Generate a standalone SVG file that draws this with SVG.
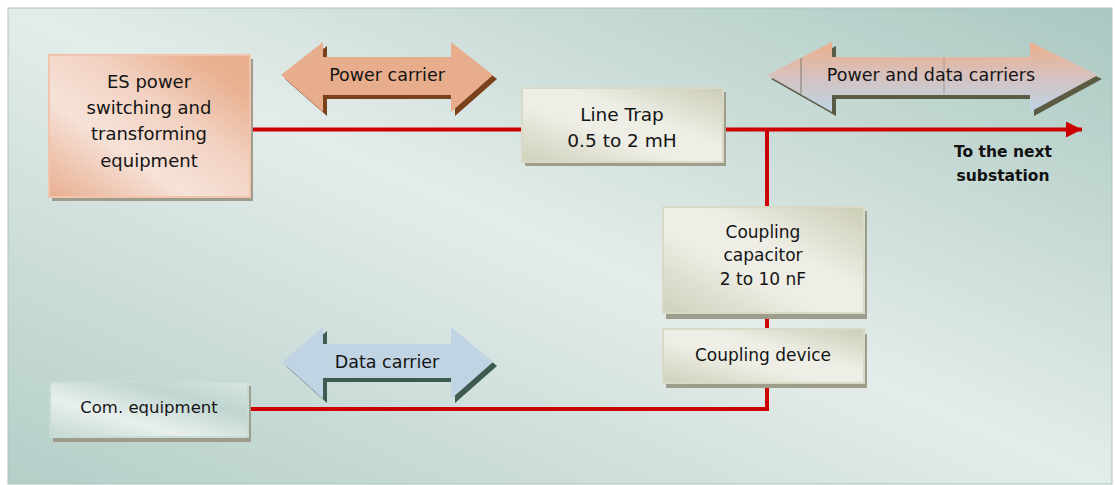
<svg xmlns="http://www.w3.org/2000/svg" width="1115" height="485" viewBox="0 0 1115 485">
<defs>
<linearGradient id="bg" x1="1" y1="0" x2="0" y2="1">
<stop offset="0" stop-color="#aac8c1"/>
<stop offset="0.5" stop-color="#e4ecea"/>
<stop offset="1" stop-color="#b4cec8"/>
</linearGradient>
<linearGradient id="peach" x1="0" y1="1" x2="1" y2="0">
<stop offset="0" stop-color="#e8ae90"/>
<stop offset="0.35" stop-color="#f6e2d8"/>
<stop offset="0.6" stop-color="#f2d2c2"/>
<stop offset="0.85" stop-color="#e9b192"/>
<stop offset="1" stop-color="#e8ad8e"/>
</linearGradient>
<linearGradient id="beige" x1="0" y1="1" x2="1" y2="0">
<stop offset="0" stop-color="#cfd0ba"/>
<stop offset="0.4" stop-color="#eeeee6"/>
<stop offset="0.6" stop-color="#eeeee6"/>
<stop offset="1" stop-color="#cccdb5"/>
</linearGradient>
<linearGradient id="teal" x1="0" y1="1" x2="1" y2="0">
<stop offset="0" stop-color="#c4d8d2"/>
<stop offset="0.35" stop-color="#e8efed"/>
<stop offset="0.7" stop-color="#c0d6d0"/>
<stop offset="1" stop-color="#d8e6e2"/>
</linearGradient>
<linearGradient id="pd" x1="0" y1="0" x2="0" y2="1">
<stop offset="0" stop-color="#ecae8a"/>
<stop offset="0.5" stop-color="#d6c2c0"/>
<stop offset="1" stop-color="#bcd4e6"/>
</linearGradient>
<marker id="ah" markerWidth="16" markerHeight="16" viewBox="0 0 16 16" refX="16" refY="8" orient="auto" markerUnits="userSpaceOnUse">
<path d="M0,0 L16,8 L0,16 Z" fill="#cc0000"/>
</marker>
</defs>
<style>
.t{font-family:"DejaVu Sans","Liberation Sans",sans-serif;font-size:18px;fill:#141414;text-anchor:middle}
.m{font-size:17.5px}
.s{font-size:17px}
.c{font-size:16.5px}
.b{font-family:"DejaVu Sans","Liberation Sans",sans-serif;font-size:15.5px;font-weight:bold;fill:#111;text-anchor:middle}
.sh{fill:#9e9d8c}
.wire{fill:none;stroke:#cc0000;stroke-width:4}
</style>
<rect x="0" y="0" width="1115" height="485" fill="#ffffff"/>
<rect x="8" y="8" width="1104" height="476" fill="url(#bg)" stroke="#a9c6bf" stroke-width="1"/>

<g id="connectors">
<path class="wire" d="M250,129.5 H522"/>
<path class="wire" d="M723,129.5 H1082" marker-end="url(#ah)"/>
<path class="wire" d="M767,129.5 V207"/>
<path class="wire" d="M767,313 V329"/>
<path class="wire" d="M767,383 V409 H250"/>
</g>

<g id="es-power">
<rect class="sh" x="52" y="59" width="201" height="142"/>
<rect x="49" y="55" width="201" height="142" fill="url(#peach)" stroke="#f0c4ad" stroke-width="2"/>
<text class="t" x="149" y="88">ES power</text>
<text class="t" x="149" y="114">switching and</text>
<text class="t" x="149" y="140">transforming</text>
<text class="t" x="149" y="167">equipment</text>
</g>

<g id="power-carrier">
<path d="M285,79 L327,46 V61 H455 V46 L497,79 L455,116 V99 H327 V116 Z" fill="#7b401c"/>
<path d="M281,75 L323,42 V57 H451 V42 L493,75 L451,112 V95 H323 V112 Z" fill="#e8ad8c"/>
<text class="t m" x="387" y="81">Power carrier</text>
</g>

<g id="line-trap">
<rect class="sh" x="525" y="92" width="201" height="74"/>
<rect x="522" y="88" width="201" height="74" fill="url(#beige)" stroke="#d8d9c6" stroke-width="2"/>
<text class="t" x="622" y="121" style="font-size:18.5px">Line Trap</text>
<text class="t" x="622" y="147" style="font-size:18.5px">0.5 to 2 mH</text>
</g>

<g id="power-data-carriers">
<path d="M771,79 L836,46 V61 H1034 V46 L1102,79 L1034,116 V99 H836 V116 Z" fill="#5b5a42"/>
<path d="M767,75 L832,42 V57 H1030 V42 L1098,75 L1030,112 V95 H832 V112 Z" fill="url(#pd)"/>
<line x1="801" y1="58" x2="801" y2="94" stroke="#6b6a55" stroke-width="0.8"/>
<line x1="944" y1="58" x2="944" y2="94" stroke="#8a8a7a" stroke-width="0.6"/>
<text class="t m" x="931" y="81">Power and data carriers</text>
</g>

<g id="next-substation">
<text class="b" x="1003" y="157">To the next</text>
<text class="b" x="1003" y="181">substation</text>
</g>

<g id="coupling-capacitor">
<rect class="sh" x="666" y="211" width="201" height="108"/>
<rect x="663" y="207" width="201" height="106" fill="url(#beige)" stroke="#d8d9c6" stroke-width="2"/>
<text class="t s" x="763" y="238">Coupling</text>
<text class="t s" x="763" y="261">capacitor</text>
<text class="t s" x="763" y="285">2 to 10 nF</text>
</g>

<g id="coupling-device">
<rect class="sh" x="666" y="334" width="201" height="54"/>
<rect x="663" y="329" width="201" height="54" fill="url(#beige)" stroke="#d8d9c6" stroke-width="2"/>
<text class="t s" x="763" y="361">Coupling device</text>
</g>

<g id="data-carrier">
<path d="M286,366 L327,331 V348 H455 V331 L497,366 L455,403 V382 H327 V403 Z" fill="#3e5b52"/>
<path d="M282,362 L323,327 V344 H451 V327 L493,362 L451,399 V378 H323 V399 Z" fill="#c0d4e4"/>
<text class="t m" x="387" y="368">Data carrier</text>
</g>

<g id="com-equipment">
<rect class="sh" x="53" y="386" width="198" height="56"/>
<rect x="50" y="382" width="198" height="55" fill="url(#teal)" stroke="#c8dbd5" stroke-width="2"/>
<text class="t c" x="149" y="413">Com. equipment</text>
</g>
</svg>
